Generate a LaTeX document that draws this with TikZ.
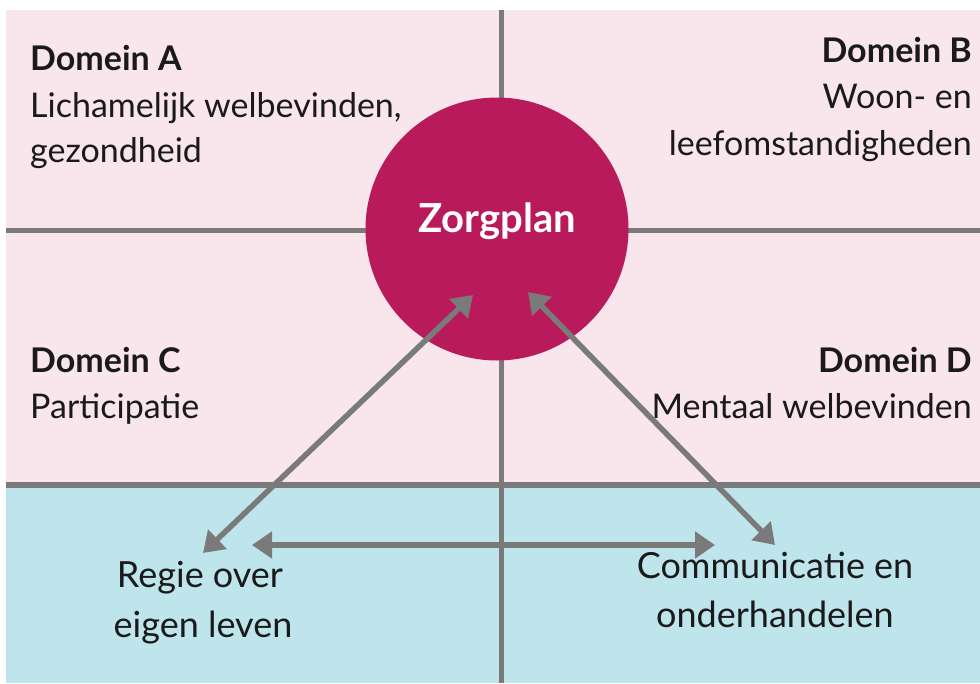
\documentclass[tikz,border=0pt]{standalone}
\usepackage{fontspec}
\setmainfont{Lato}
\usetikzlibrary{arrows.meta}
\definecolor{pinkbg}{HTML}{F8E6EC}
\definecolor{cyanbg}{HTML}{BEE5EC}
\definecolor{zorg}{HTML}{B81A5B}
\definecolor{grid}{HTML}{7A7A7A}
\definecolor{txt}{HTML}{1A1A1A}
\tikzset{
  gridline/.style={draw=grid,line width=5pt},
  dtitle/.style={inner sep=0pt,font=\fontsize{34}{40}\selectfont\bfseries,text=txt},
  dbody/.style={inner sep=0pt,font=\fontsize{34}{40}\selectfont,text=txt},
  btext/.style={inner sep=0pt,font=\fontsize{36}{42}\selectfont,text=txt},
  conn/.style={draw=grid,line width=5.5pt,{Triangle[length=20pt,width=26pt]}-{Triangle[length=20pt,width=26pt]}},
}
\begin{document}
\begin{tikzpicture}[x=1pt,y=-1pt]
\useasboundingbox (0,0) rectangle (980,683);
\fill[white] (0,0) rectangle (980,683);
\fill[pinkbg] (6,10) rectangle (980,485);
\fill[cyanbg] (6,485) rectangle (980,683);
% grid lines
\coordinate (vt) at (501,10);
\coordinate (vb) at (501,683);
\coordinate (hl) at (6,230);
\coordinate (hr) at (980,230);
\coordinate (bl) at (6,485);
\coordinate (br) at (980,485);
\draw[gridline] (vt) -- (vb);
\draw[gridline] (hl) -- (hr);
\draw[gridline,line width=6pt] (bl) -- (br);
% circle
\node[circle,fill=zorg,minimum size=263pt,inner sep=0pt] (zorg) at (497,229) {};
\node[inner sep=0pt,font=\fontsize{40}{46}\selectfont\bfseries,text=white,anchor=base] (zl) at (497,232) {Zorgplan};
% domain texts
\node[dtitle,anchor=base west] (a1) at (30,70) {Domein A};
\node[dbody,anchor=base west] (a2) at (30,117) {Lichamelijk welbevinden,};
\node[dbody,anchor=base west] (a3) at (30,162) {gezondheid};
\node[dtitle,anchor=base east] (b1) at (972,62) {Domein B};
\node[dbody,anchor=base east] (b2) at (972,108) {Woon- en};
\node[dbody,anchor=base east] (b3) at (972,155) {leefomstandigheden};
\node[dtitle,anchor=base west] (c1) at (30,372) {Domein C};
\node[dbody,anchor=base west] (c2) at (30,418) {Participatie};
\node[dtitle,anchor=base east] (d1) at (972,372) {Domein D};
\node[dbody,anchor=base east] (d2) at (972,418) {Mentaal welbevinden};
% bottom texts
\node[btext,anchor=base] (r1) at (200,587) {Regie over};
\node[btext,anchor=base] (r2) at (203,637) {eigen leven};
\node[btext,anchor=base] (k1) at (775,578) {Communicatie en};
\node[btext,anchor=base] (k2) at (775,627) {onderhandelen};
% arrows
\coordinate (z1) at (473,295);
\coordinate (z2) at (528,292);
\coordinate (rt) at (203,553);
\coordinate (kt) at (775,545);
\coordinate (hlft) at (252,545);
\coordinate (hrgt) at (715,545);
\draw[conn] (rt) -- (z1);
\draw[conn] (kt) -- (z2);
\draw[conn] (hlft) -- (hrgt);
\end{tikzpicture}
\end{document}
